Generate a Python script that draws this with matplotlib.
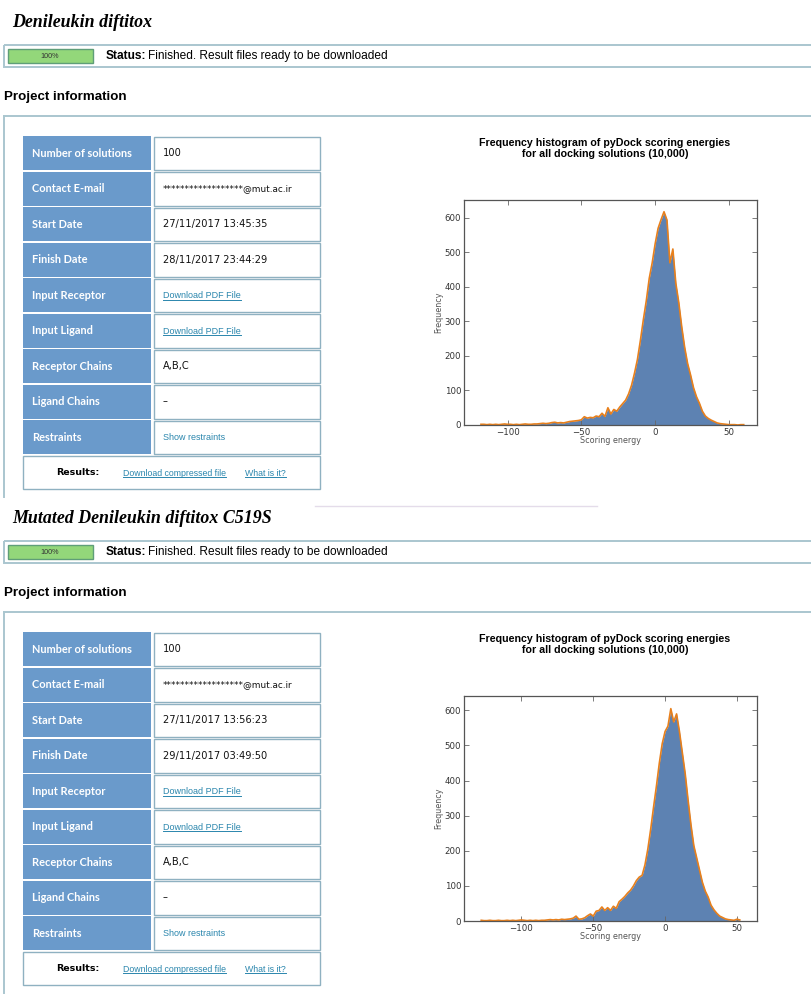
import numpy as np
import matplotlib
matplotlib.use("Agg")
import matplotlib.pyplot as plt
from matplotlib.patches import Rectangle

W, H = 811, 996

titles = ["Denileukin diftitox", "Mutated Denileukin diftitox C519S"]
row_labels = ["Number of solutions", "Contact E-mail", "Start Date", "Finish Date",
              "Input Receptor", "Input Ligand", "Receptor Chains", "Ligand Chains",
              "Restraints"]
values_1 = ["100", "******************@mut.ac.ir", "27/11/2017 13:45:35",
            "28/11/2017 23:44:29", "Download PDF File", "Download PDF File",
            "A,B,C", "\u2013", "Show restraints"]
values_2 = ["100", "******************@mut.ac.ir", "27/11/2017 13:56:23",
            "29/11/2017 03:49:50", "Download PDF File", "Download PDF File",
            "A,B,C", "\u2013", "Show restraints"]
link_rows = [4, 5, 8]
status_text = "Finished. Result files ready to be downloaded"
chart_title = "Frequency histogram of pyDock scoring energies\nfor all docking solutions (10,000)"

# histogram counts, bins of 2 energy units, first bin centre given
start_1 = -118
counts_1 = [2, 2, 1, 2, 1, 2, 1, 2, 3, 2,
            2, 1, 2, 1, 2, 3, 2, 2, 3, 3,
            4, 5, 4, 5, 7, 8, 6, 7, 6, 8,
            10, 11, 12, 13, 15, 24, 20, 22, 21, 26,
            24, 34, 25, 50, 32, 45, 40, 52, 62, 72,
            90, 115, 150, 190, 245, 305, 360, 425, 470, 525,
            570, 595, 618, 594, 470, 510, 411, 355, 285, 225,
            178, 145, 108, 82, 63, 40, 26, 19, 14, 10,
            6, 4, 3, 2, 1, 1, 1, 0, 1, 1]
start_2 = -128
counts_2 = [2, 1, 1, 2, 1, 1, 2, 1, 1, 2,
            1, 2, 1, 2, 3, 2, 1, 2, 1, 2,
            1, 2, 2, 3, 4, 3, 4, 3, 5, 4,
            5, 6, 8, 14, 5, 6, 9, 15, 20, 14,
            28, 30, 40, 30, 38, 30, 42, 36, 55, 62,
            70, 80, 88, 100, 115, 125, 130, 160, 205, 262,
            325, 385, 450, 505, 540, 555, 605, 567, 590, 540,
            480, 420, 345, 275, 215, 180, 145, 110, 85, 68,
            45, 32, 22, 14, 10, 6, 4, 3, 2, 5, 3]

BLUE_CELL = "#6a9acb"
CELL_EDGE = "#8fb1c1"
BOX_EDGE = "#aac6cf"
LINK = "#2a86ad"
HIST_FILL = "#5d82b2"
HIST_LINE = "#e8801c"

fig = plt.figure(figsize=(W / 100, H / 100), dpi=100)
page = fig.add_axes([0, 0, 1, 1])
page.set_xlim(0, W)
page.set_ylim(H, 0)
page.axis("off")

links = []


def panel(oy, title, values, start, counts, xlim, ylim):
    page.text(12, oy + 22, title, family="Liberation Serif", weight="bold",
              style="italic", fontsize=12.9, va="center")
    # status bar
    page.add_patch(Rectangle((4, oy + 45), 820, 22, fill=False, ec=BOX_EDGE, lw=1.4))
    page.add_patch(Rectangle((8, oy + 49), 85, 14, fc="#93d77a", ec="#5f9e78", lw=1))
    page.text(50, oy + 56, "100%", family="Liberation Sans", fontsize=5.2,
              ha="center", va="center", color="#333333")
    page.text(106, oy + 56, "Status:", family="Liberation Sans", weight="bold",
              fontsize=8.6, va="center")
    page.text(148, oy + 56, status_text, family="Liberation Sans", fontsize=8.6, va="center")
    page.text(4, oy + 97, "Project information", family="Liberation Sans", weight="bold",
              fontsize=9.6, va="center")
    # outer box
    page.plot([4, 4], [oy + 116, oy + 497], color=BOX_EDGE, lw=1.4)
    page.plot([4, W], [oy + 116, oy + 116], color=BOX_EDGE, lw=1.4)

    # table
    for i, (lab, val) in enumerate(zip(row_labels, values)):
        top = oy + 136 + i * 35.5
        page.add_patch(Rectangle((23, top), 128, 34, fc=BLUE_CELL, ec="none"))
        page.add_patch(Rectangle((154, top + 0.5), 166, 33.5, fc="white", ec=CELL_EDGE, lw=1))
        page.text(32, top + 17, lab, family="Lato", weight="bold", fontsize=7.9,
                  color="white", va="center")
        if i in link_rows:
            t = page.text(163, top + 20, val, family="Liberation Sans", fontsize=6.5,
                          color=LINK, va="baseline")
            if i != 8:
                links.append((t, top + 21.5))
        elif i == 1:
            page.text(163, top + 17, val, family="DejaVu Sans", fontsize=6.4,
                      color="#111111", va="center")
        else:
            page.text(163, top + 17, val, family="DejaVu Sans", fontsize=7.1,
                      color="#111111", va="center")
    top = oy + 455.5
    page.add_patch(Rectangle((23, top), 297, 33.5, fc="white", ec=CELL_EDGE, lw=1))
    page.text(56, top + 17, "Results:", family="DejaVu Sans", weight="bold",
              fontsize=6.8, va="center")
    t = page.text(123, top + 20, "Download compressed file", family="Liberation Sans",
                  fontsize=6.3, color=LINK, va="baseline")
    links.append((t, top + 21.5))
    t = page.text(245, top + 20, "What is it?", family="Liberation Sans",
                  fontsize=6.3, color=LINK, va="baseline")
    links.append((t, top + 21.5))

    # chart
    page.text(605, oy + 148.5, chart_title, family="Liberation Sans", weight="bold",
              fontsize=7.7, ha="center", va="center", linespacing=1.2)
    ax = fig.add_axes([464 / W, (H - oy - 425) / H, 293 / W, 225 / H])
    centers = start + 2 * np.arange(len(counts))
    ax.fill_between(centers, counts, color=HIST_FILL, lw=0)
    ax.plot(centers, counts, color=HIST_LINE, lw=1.2)
    ax.set_xlim(*xlim)
    ax.set_ylim(*ylim)
    ax.set_xticks([-100, -50, 0, 50])
    ax.set_yticks(range(0, 700, 100))
    ax.set_xticklabels(["\u2212100", "\u221250", "0", "50"])
    ax.tick_params(direction="in", top=True, right=True, length=3.5, width=0.6,
                   color="#666666", labelsize=6.2, labelcolor="#333333", pad=2)
    for s in ax.spines.values():
        s.set_color("#555555")
        s.set_linewidth(0.9)
    ax.set_xlabel("Scoring energy", fontsize=5.8, color="#555555")
    ax.set_ylabel("Frequency", fontsize=5.8, color="#555555")
    ax.xaxis.set_label_coords(0.5, -0.05)
    ax.yaxis.set_label_coords(-0.072, 0.5)


panel(0, titles[0], values_1, start_1, counts_1, (-129.5, 69), (0, 652))
panel(496, titles[1], values_2, start_2, counts_2, (-140, 64), (0, 641))

# faint separator next to the second title
page.plot([315, 597], [506, 506], color="#e4dcea", lw=1)

# underline the links
fig.canvas.draw()
inv = page.transData.inverted()
for t, y in links:
    bb = t.get_window_extent()
    x0 = inv.transform((bb.x0, bb.y0))[0]
    x1 = inv.transform((bb.x1, bb.y0))[0]
    page.plot([x0, x1], [y, y], color=LINK, lw=0.7)

fig.savefig("out.png", dpi=100)
